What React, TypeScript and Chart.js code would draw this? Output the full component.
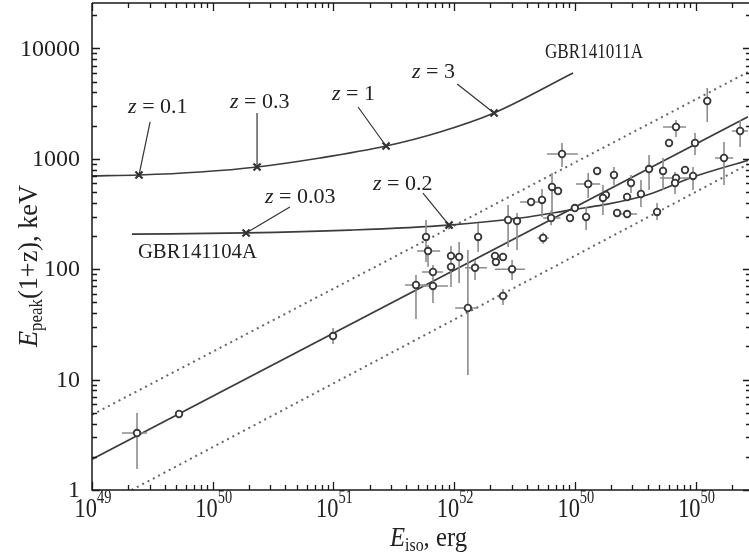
import React, { useEffect, useRef } from 'react';
import { Chart, registerables } from 'chart.js';
Chart.register(...registerables);

// ---------- data ----------
const eIso = [
  2.36e49, 5.26e49, 9.93e50, 1.30e52, 2.54e52, 4.83e51, 6.68e51, 6.68e51, 9.42e51, 9.42e51,
  1.10e52, 5.85e51, 6.08e51, 1.58e52, 1.49e52, 2.18e52, 2.54e52, 2.22e52, 3.02e52, 2.80e52,
  3.32e52, 4.34e52, 5.35e52, 5.46e52, 6.47e52, 7.26e52, 6.36e52, 7.83e52, 9.12e52, 1.00e53,
  1.24e53, 1.29e53, 1.53e53, 1.81e53, 1.71e53, 2.11e53, 2.24e53, 2.71e53, 2.71e53, 2.92e53,
  3.53e53, 4.80e53, 4.12e53, 5.38e53, 6.03e53, 6.89e53, 6.89e53, 6.76e53, 8.18e53, 9.53e53,
  9.90e53, 1.25e54, 1.72e54, 2.34e54,
];
const ePeak = [
  3.28, 4.88, 24.8, 44.5, 57.2, 71.9, 70.5, 94.3, 105, 132,
  129, 196, 146, 196, 103, 132, 129, 116, 100, 279,
  273, 406, 424, 192, 556, 511, 291, 1105, 291, 358,
  297, 591, 775, 470, 442, 713, 323, 316, 451, 604,
  480, 330, 808, 775, 1390, 1941, 670, 604, 792, 699,
  1390, 3340, 1017, 1786,
];
const eIsoLo = [
  1.77e49, null, null, 1.02e52, 2.26e52, 3.92e51, 5.42e51, 5.42e51, null, null,
  null, null, 4.93e51, null, 1.23e52, null, null, null, 2.18e52, null,
  null, 3.52e52, null, 4.9e52, null, null, 5.46e52, 5.89e52, null, null,
  null, 1.02e53, null, null, null, null, null, 2.07e53, null, null,
  null, null, null, null, null, 5.38e53, 5.08e53, null, null, null,
  null, null, 1.45e54, 2.00e54,
];
const eIsoHi = [
  2.86e49, null, null, 1.58e52, 2.80e52, 5.97e51, 8.89e51, 8.09e51, null, null,
  null, null, 7.66e51, null, 1.87e52, null, null, null, 3.86e52, null,
  null, 5.46e52, null, 6.1e52, null, null, 7.6e52, 1.06e53, null, null,
  null, 1.62e53, null, null, null, null, null, 3.27e53, null, null,
  null, null, null, null, null, 8.34e53, 9.02e53, null, null, null,
  null, null, 2.05e54, 2.72e54,
];
const ePeakLo = [
  1.55, null, 21.0, 11.0, 47.4, 35.4, 49.4, 69.0, 69, 107,
  75, 116, 105, 143, 79.8, null, null, null, 79.8, 159,
  149, null, 297, 170, 323, null, 250, 843, null, null,
  226, 442, null, null, 310, 579, null, null, null, 490,
  366, 279, 522, 522, null, 1575, null, 480, null, 522,
  1082, 2155, 579, 1279,
];
const ePeakHi = [
  4.98, null, 29.3, 149, 66.2, 88.6, 88.6, 109, 143, 162,
  176, 279, 166, 262, 121, null, null, null, 121, 382,
  323, null, 533, 215, 744, null, 340, 1390, null, null,
  366, 744, null, null, 579, 843, null, null, null, 713,
  643, 398, 1082, 1017, null, 2245, null, 760, null, 843,
  1713, 4380, 1420, 2245,
];

// correlation line and its bounds
const fitX = [1e49, 2.72e54];
const fitY = [1.9, 2400];
const upperX = [1e49, 2.72e54];
const upperY = [4.8, 6100];
const lowerX = [2.13e49, 2.72e54];
const lowerY = [1, 891];

// GRB tracks vs redshift
const grb1011X = [1e49, 2.45e49, 7.85e49, 2.33e50, 7.74e50, 2.73e51, 7.64e51, 2.14e52, 9.66e52];
const grb1011Y = [699, 713, 759, 843, 1017, 1306, 1750, 2600, 5985];
const grb1104X = [2.14e49, 1.89e50, 1.37e51, 9.08e51, 3.52e52, 9.66e52, 1.71e53, 3.96e53, 9.53e53, 2.77e54];
const grb1104Y = [208, 213, 226, 251, 291, 347, 382, 470, 684, 975];

// redshift markers + labels
const zLabels = ['0.1', '0.3', '1', '3', '0.03', '0.2'];
const zMarkX = [2.45e49, 2.33e50, 2.73e51, 2.14e52, 1.89e50, 9.08e51];
const zMarkY = [713, 843, 1306, 2600, 213, 251];
const zLeadX = [3.03e49, 2.33e50, 1.60e51, 1.06e52, 4.36e50, 5.52e51];
const zLeadY = [2155, 2600, 2946, 4760, 366, 490];
const zTextX = [1.99e49, 1.39e50, 9.73e50, 4.48e51, 2.71e50, 2.13e51];
const zTextY = [2600, 2884, 3410, 5395, 398, 522];

const grbNames = ['GBR141011A', 'GBR141104A'];
const grbTextX = [5.66e52, 2.40e49];
const grbTextY = [8190, 126];
const grbTextW = [98, 119];
const grbTextSize = [20, 22];

// axes
const xMin = 1e49;
const xMax = 2.72e54;
const yMin = 1;
const yMax = 25780;
const xTickValues = [1e49, 1e50, 1e51, 1e52, 1e53, 1e54];
const xTickExp = ['49', '50', '51', '52', '50', '50'];
const yTickValues = [1, 10, 100, 1000, 10000];
const yTickLabels = ['1', '10', '100', '1000', '10000'];

// ---------- helpers ----------
type Run = { t: string; font: string; dy?: number };
const SERIF = '"Liberation Serif", "Times New Roman", serif';
const f = (size: number, italic = false) => `${italic ? 'italic ' : ''}${size}px ${SERIF}`;

function runsWidth(ctx: CanvasRenderingContext2D, runs: Run[]) {
  let w = 0;
  for (const r of runs) {
    ctx.font = r.font;
    w += ctx.measureText(r.t).width;
  }
  return w;
}

function drawRuns(
  ctx: CanvasRenderingContext2D,
  runs: Run[],
  x: number,
  y: number,
  opts: { align?: 'left' | 'center' | 'right'; width?: number; sx?: number; rotate?: number; baseline?: CanvasTextBaseline } = {}
) {
  const w = runsWidth(ctx, runs);
  const sx = opts.width ? opts.width / w : opts.sx ?? 1;
  ctx.save();
  ctx.translate(x, y);
  if (opts.rotate) ctx.rotate(opts.rotate);
  ctx.scale(sx, 1);
  let cx = opts.align === 'center' ? -w / 2 : opts.align === 'right' ? -w : 0;
  ctx.textAlign = 'left';
  ctx.textBaseline = opts.baseline ?? 'alphabetic';
  for (const r of runs) {
    ctx.font = r.font;
    ctx.fillText(r.t, cx, r.dy ?? 0);
    cx += ctx.measureText(r.t).width;
  }
  ctx.restore();
}

const errorBarPlugin = {
  id: 'errorBars',
  beforeDatasetDraw(chart: any, args: any) {
    if (args.index !== 0) return;
    const { ctx, scales } = chart;
    const xs = scales.x, ys = scales.y;
    const a = chart.chartArea;
    ctx.save();
    ctx.beginPath();
    ctx.rect(a.left, a.top, a.right - a.left, a.bottom - a.top);
    ctx.clip();
    ctx.strokeStyle = '#8c8c8c';
    ctx.lineWidth = 1.6;
    ctx.beginPath();
    for (let i = 0; i < eIso.length; i++) {
      const px = xs.getPixelForValue(eIso[i]);
      const py = ys.getPixelForValue(ePeak[i]);
      if (eIsoLo[i] != null && eIsoHi[i] != null) {
        ctx.moveTo(xs.getPixelForValue(eIsoLo[i] as number), py);
        ctx.lineTo(xs.getPixelForValue(eIsoHi[i] as number), py);
      }
      if (ePeakLo[i] != null && ePeakHi[i] != null) {
        ctx.moveTo(px, ys.getPixelForValue(ePeakLo[i] as number));
        ctx.lineTo(px, ys.getPixelForValue(ePeakHi[i] as number));
      }
    }
    ctx.stroke();
    ctx.restore();
  },
};

const framePlugin = {
  id: 'frame',
  afterDraw(chart: any) {
    const { ctx, chartArea: a, scales } = chart;
    const xs = scales.x, ys = scales.y;
    ctx.save();
    ctx.strokeStyle = '#1a1a1a';
    ctx.fillStyle = '#1a1a1a';
    ctx.lineWidth = 1.5;
    ctx.beginPath();
    ctx.moveTo(a.left, a.top);
    ctx.lineTo(a.left, a.bottom);
    ctx.lineTo(a.right + 2, a.bottom);
    ctx.moveTo(a.left, a.top);
    ctx.lineTo(a.right + 2, a.top);
    ctx.stroke();

    // ticks
    ctx.lineWidth = 1.3;
    ctx.beginPath();
    for (let d = 49; d <= 54; d++) {
      for (let m = 1; m <= 9; m++) {
        const v = m * Math.pow(10, d);
        if (v < xMin * 0.999 || v > xMax) continue;
        const px = Math.round(xs.getPixelForValue(v)) + 0.5;
        const len = m === 1 ? 8 : 5;
        ctx.moveTo(px, a.bottom);
        ctx.lineTo(px, a.bottom - len);
        ctx.moveTo(px, a.top);
        ctx.lineTo(px, a.top + len);
      }
    }
    for (let d = 0; d <= 4; d++) {
      for (let m = 1; m <= 9; m++) {
        const v = m * Math.pow(10, d);
        if (v < yMin * 0.999 || v > yMax) continue;
        const py = Math.round(ys.getPixelForValue(v)) + 0.5;
        const len = m === 1 ? 8 : 5;
        ctx.moveTo(a.left, py);
        ctx.lineTo(a.left + len, py);
        ctx.moveTo(a.right + 1, py);
        ctx.lineTo(a.right + 1 - (m === 1 ? 6 : 3), py);
      }
    }
    ctx.stroke();

    // y tick labels
    ctx.fillStyle = '#222';
    yTickValues.forEach((v, i) => {
      const py = ys.getPixelForValue(v);
      drawRuns(ctx, [{ t: yTickLabels[i], font: f(24) }], 80, py + 1, { align: 'right', baseline: 'middle' });
    });
    // x tick labels
    xTickValues.forEach((v, i) => {
      const px = xs.getPixelForValue(v);
      drawRuns(ctx, [{ t: '10', font: f(28) }, { t: xTickExp[i], font: f(18), dy: -14 }], px + 1, 517, {
        align: 'center',
        sx: 0.8,
      });
    });

    // axis titles
    drawRuns(
      ctx,
      [
        { t: 'E', font: f(28, true) },
        { t: 'iso', font: f(18), dy: 5 },
        { t: ', erg', font: f(28) },
      ],
      390,
      546,
      { align: 'left', width: 77 }
    );
    drawRuns(
      ctx,
      [
        { t: 'E', font: f(28, true) },
        { t: 'peak', font: f(18), dy: 5 },
        { t: '(1+z), keV', font: f(28) },
      ],
      37,
      266,
      { align: 'center', width: 162, rotate: -Math.PI / 2 }
    );

    // redshift annotations
    ctx.strokeStyle = '#333';
    ctx.lineWidth = 1.2;
    ctx.beginPath();
    zLabels.forEach((_, i) => {
      ctx.moveTo(xs.getPixelForValue(zLeadX[i]), ys.getPixelForValue(zLeadY[i]));
      ctx.lineTo(xs.getPixelForValue(zMarkX[i]), ys.getPixelForValue(zMarkY[i]));
    });
    ctx.stroke();
    zLabels.forEach((lab, i) => {
      drawRuns(
        ctx,
        [
          { t: 'z', font: f(22, true) },
          { t: ' = ' + lab, font: f(22) },
        ],
        xs.getPixelForValue(zTextX[i]),
        ys.getPixelForValue(zTextY[i]),
        { align: 'left' }
      );
    });
    grbNames.forEach((name, i) => {
      drawRuns(ctx, [{ t: name, font: f(grbTextSize[i]) }], xs.getPixelForValue(grbTextX[i]), ys.getPixelForValue(grbTextY[i]), {
        align: 'left',
        width: grbTextW[i],
      });
    });
    ctx.restore();
  },
};

const pts = (xs: number[], ys: number[]) => xs.map((x, i) => ({ x, y: ys[i] }));

export default function App() {
  const ref = useRef<HTMLCanvasElement>(null);
  useEffect(() => {
    document.body.style.margin = '0';
    const canvas = ref.current!;
    const chart = new Chart(canvas, {
      type: 'scatter',
      data: {
        datasets: [
          {
            data: pts(eIso, ePeak),
            pointStyle: 'circle',
            pointRadius: 3.3,
            pointBorderWidth: 1.8,
            pointBorderColor: '#383838',
            pointBackgroundColor: '#ffffff',
            order: 0,
          } as any,
          {
            data: pts(zMarkX, zMarkY),
            pointStyle: 'crossRot',
            pointRadius: 5,
            pointBorderWidth: 2.2,
            pointBorderColor: '#333',
            order: 1,
          } as any,
          {
            type: 'line',
            data: pts(grb1011X, grb1011Y),
            showLine: true,
            borderColor: '#3c3c3c',
            borderWidth: 1.7,
            pointRadius: 0,
            cubicInterpolationMode: 'monotone',
            fill: false,
            order: 2,
          } as any,
          {
            type: 'line',
            data: pts(grb1104X, grb1104Y),
            showLine: true,
            borderColor: '#3c3c3c',
            borderWidth: 1.7,
            pointRadius: 0,
            cubicInterpolationMode: 'monotone',
            fill: false,
            order: 2,
          } as any,
          {
            type: 'line',
            data: pts(fitX, fitY),
            showLine: true,
            borderColor: '#3c3c3c',
            borderWidth: 1.7,
            pointRadius: 0,
            fill: false,
            order: 3,
          } as any,
          {
            type: 'line',
            data: pts(upperX, upperY),
            showLine: true,
            borderColor: '#666',
            borderWidth: 2,
            borderDash: [2, 4],
            pointRadius: 0,
            fill: false,
            order: 4,
          } as any,
          {
            type: 'line',
            data: pts(lowerX, lowerY),
            showLine: true,
            borderColor: '#666',
            borderWidth: 2,
            borderDash: [2, 4],
            pointRadius: 0,
            fill: false,
            order: 4,
          } as any,
        ],
      },
      options: {
        responsive: false,
        maintainAspectRatio: false,
        animation: false,
        events: [],
        layout: { autoPadding: false, padding: { left: 92, top: 3, right: 1, bottom: 63 } },
        plugins: { legend: { display: false }, tooltip: { enabled: false } },
        scales: {
          x: { type: 'logarithmic', min: xMin, max: xMax, display: false },
          y: { type: 'logarithmic', min: yMin, max: yMax, display: false },
        },
      },
      plugins: [errorBarPlugin, framePlugin],
    } as any);
    return () => chart.destroy();
  }, []);
  return (
    <div style={{ position: 'absolute', left: 0, top: 0, width: 749, height: 553, background: '#fff' }}>
      <canvas ref={ref} width={749} height={553} style={{ display: 'block' }} />
    </div>
  );
}
